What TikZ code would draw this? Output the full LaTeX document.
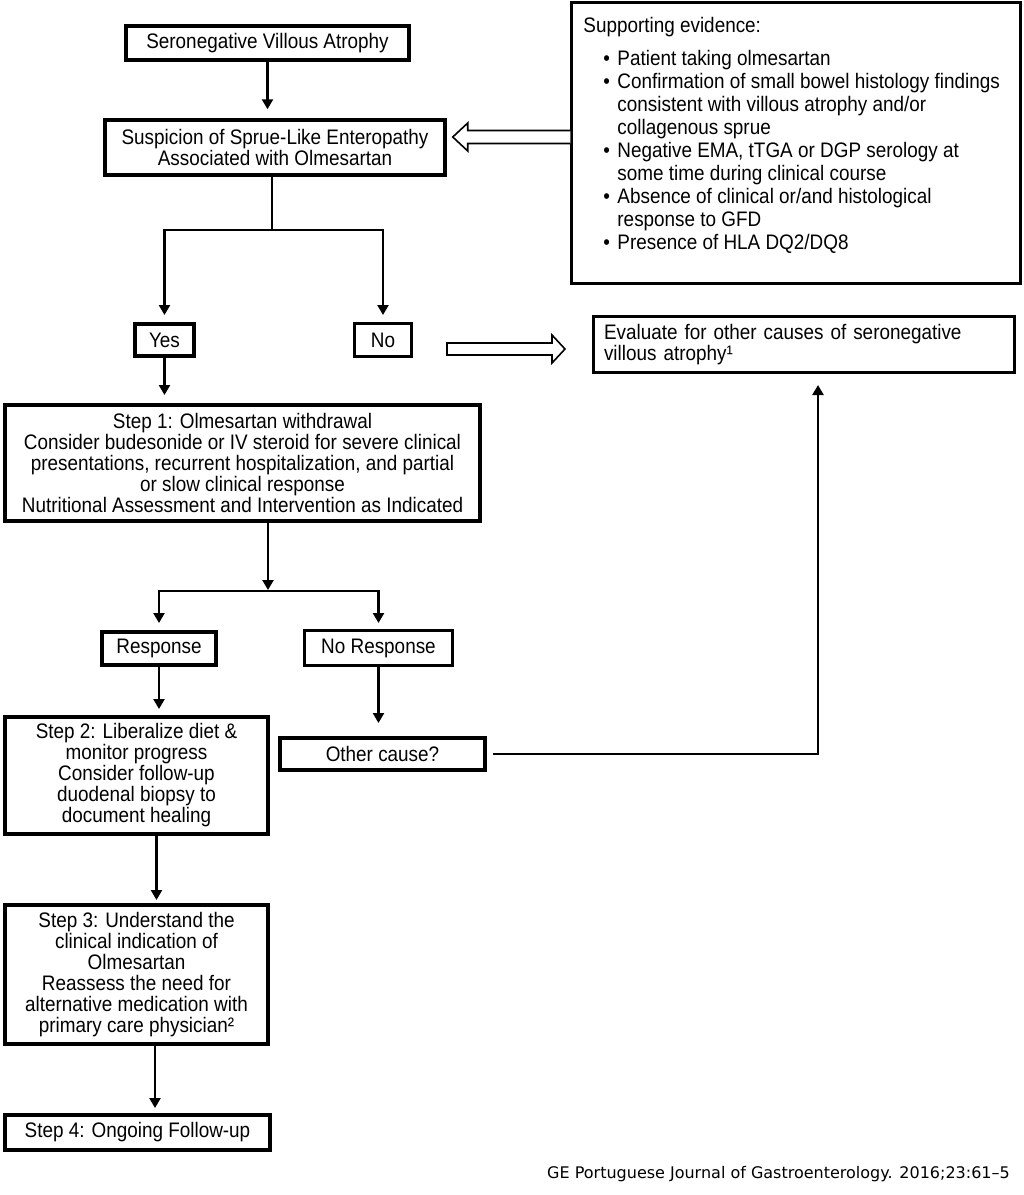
\documentclass[tikz,border=0pt]{standalone}
\usepackage{fontspec}
\setmainfont[FakeStretch=0.9]{Liberation Sans}
\newfontfamily\citefont{DejaVu Sans}
\usetikzlibrary{arrows.meta, positioning, calc}

\newcommand{\evitem}{\hspace*{20pt}\makebox[14pt][l]{\textbullet}}
\newcommand{\evindent}{\hspace*{34pt}}

\begin{document}
\begin{tikzpicture}[
    x=1pt, y=-1pt,
    % --- STYLES ---
    base/.style={draw, align=center, inner sep=0pt, font=\fontsize{21}{21}\selectfont},
    heavy/.style={base, line width=4pt},
    light/.style={base, line width=3pt},
    link/.style={line width=2.4pt},
    arrow/.style={link, -{Triangle[length=10pt, width=11pt]}},
    hollow/.style={draw, line width=1.6pt, fill=white, line join=miter}
]
    \useasboundingbox (0,0) rectangle (1024,1195);

    % ==========================================
    % DIAGNOSIS (Top)
    % ==========================================

    % 1. Entry and suspicion
    \node[heavy, minimum width=283pt, minimum height=34pt] (sero) at (267.5,43) {Seronegative Villous Atrophy};
    \node[heavy, line width=3.5pt, minimum width=340pt, minimum height=55pt] (suspicion) at (275,147.5) {Suspicion of Sprue-Like Enteropathy\\Associated with Olmesartan};

    % 2. Supporting evidence box
    \node[draw, line width=2.5pt, minimum width=449pt, minimum height=281pt, inner sep=0pt] (evidence) at (796,143) {};
    \node[anchor=north west, align=left, inner sep=0pt, font=\fontsize{21}{23}\selectfont] (evtext) at ([xshift=13pt, yshift=-16pt]evidence.north west) {Supporting evidence:\\[10pt]
        \evitem Patient taking olmesartan\\
        \evitem Confirmation of small bowel histology findings\\
        \evindent consistent with villous atrophy and/or\\
        \evindent collagenous sprue\\
        \evitem Negative EMA, tTGA or DGP serology at\\
        \evindent some time during clinical course\\
        \evitem Absence of clinical or/and histological\\
        \evindent response to GFD\\
        \evitem Presence of HLA DQ2/DQ8};

    % 3. Decision
    \node[heavy, minimum width=59pt, minimum height=32pt] (yes) at (164.5,340) {Yes};
    \node[light, minimum width=57pt, minimum height=33pt] (no) at (383,340) {No};
    \node[light, minimum width=421pt, minimum height=56pt, text width=400pt, align=left, inner xsep=10.5pt] (evaluate) at (804,344.5) {Evaluate for other causes of seronegative\\villous atrophy¹};

    % Diagnosis arrows
    \draw[arrow, shorten >=9pt] (sero.south) -- (sero.south |- suspicion.north);
    \draw[link] ($(suspicion.south)+(-3,0)$) -- ++(0,53) coordinate (split1);
    \draw[arrow, shorten >=7pt] (split1) -| (yes.north);
    \draw[arrow, shorten >=7pt] (split1) -| (no.north);

    % Hollow arrows
    \coordinate (evA) at (evidence.west |- 0,137);
    \coordinate (tipA) at ($(suspicion.east |- evA)+(6,0)$);
    \draw[hollow] ($(evA)+(0,-6.5)$) -- ($(tipA)+(15,-6.5)$) -- ($(tipA)+(15,-14)$) -- (tipA) -- ($(tipA)+(15,14)$) -- ($(tipA)+(15,6.5)$) -- ($(evA)+(0,6.5)$);

    \coordinate (tailB) at ($(no.east)+(34,9)$);
    \coordinate (tipB) at ($(evaluate.west |- tailB)+(-27,0)$);
    \draw[hollow] ($(tailB)+(0,-6)$) -- ($(tipB)+(-13,-6)$) -- ($(tipB)+(-13,-14)$) -- (tipB) -- ($(tipB)+(-13,14)$) -- ($(tipB)+(-13,6)$) -- ($(tailB)+(0,6)$) -- cycle;

    % ==========================================
    % TREATMENT (Bottom)
    % ==========================================

    \node[heavy, minimum width=475pt, minimum height=116pt] (step1) at (242.5,463) {Step 1: Olmesartan withdrawal\\Consider budesonide or IV steroid for severe clinical\\presentations, recurrent hospitalization, and partial\\or slow clinical response\\Nutritional Assessment and Intervention as Indicated};

    \node[heavy, minimum width=114pt, minimum height=33pt] (response) at (159,648.5) {Response};
    \node[light, minimum width=148pt, minimum height=35pt] (noresp) at (378.5,648) {No Response};

    \node[heavy, minimum width=263pt, minimum height=117pt] (step2) at (136.5,775.5) {Step 2: Liberalize diet \&\\monitor progress\\Consider follow-up\\duodenal biopsy to\\document healing};
    \node[heavy, minimum width=205pt, minimum height=32pt] (other) at (382.5,754) {Other cause?};

    \node[heavy, minimum width=263pt, minimum height=139pt] (step3) at (136.5,974.5) {Step 3: Understand the\\clinical indication of\\Olmesartan\\Reassess the need for\\alternative medication with\\primary care physician²};
    \node[heavy, minimum width=265pt, minimum height=35pt] (step4) at (137.5,1132.5) {Step 4: Ongoing Follow-up};

    % Treatment arrows
    \draw[arrow, shorten >=8pt] (yes.south) -- (yes.south |- step1.north);
    \coordinate (split2) at (268,591);
    \draw[arrow, shorten >=1pt] (step1.south -| split2) -- (split2);
    \draw[arrow, shorten >=7pt] (split2) -| (response.north);
    \draw[arrow, shorten >=6pt] (split2) -| (noresp.north);

    \draw[arrow, shorten >=6pt] (response.south) -- (response.south |- step2.north);
    \draw[arrow, shorten >=13pt] (noresp.south) -- (noresp.south |- other.north);
    \draw[arrow, shorten <=6pt, shorten >=11pt] (other.east) -| ($(evaluate.south)+(14,0)$);

    \draw[arrow, shorten >=3pt] ($(step2.south)+(20,0)$) -- ($(step2.south |- step3.north)+(20,0)$);
    \draw[arrow, shorten >=5pt] ($(step3.south)+(18.5,0)$) -- ($(step3.south |- step4.north)+(18.5,0)$);

    % Source line
    \node[anchor=base east, inner sep=0pt, font=\citefont\fontsize{16}{18}\selectfont] (citation) at (1010,1178) {GE Portuguese Journal of Gastroenterology. 2016;23:61–5};

\end{tikzpicture}
\end{document}
